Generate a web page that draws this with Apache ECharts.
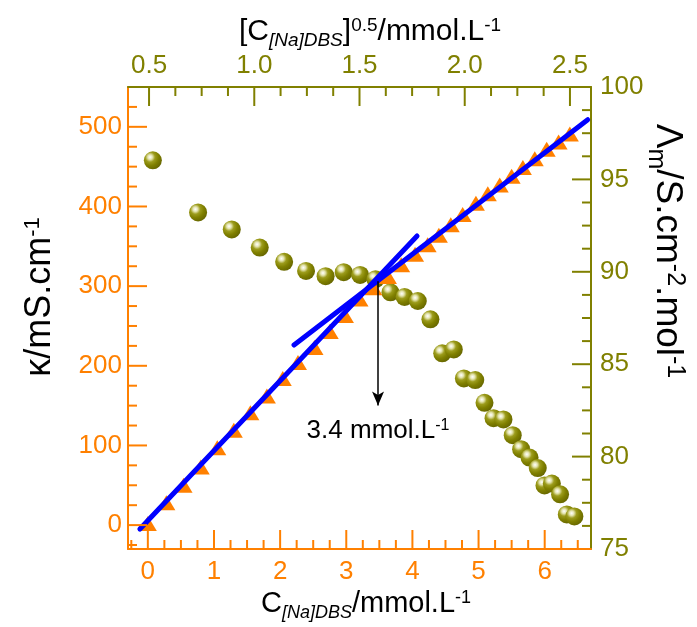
<!DOCTYPE html>
<html><head><meta charset="utf-8">
<script src="https://cdn.jsdelivr.net/npm/echarts@6/dist/echarts.min.js"></script>
<style>html,body{margin:0;padding:0;background:#fff}#c{width:697px;height:627px;background:#fff}</style>
</head><body><div id="c"></div>
<script>
// ---- data ----
const concentration = [0, 0.28, 0.54, 0.80, 1.05, 1.30, 1.55, 1.80, 2.04, 2.27, 2.52, 2.75, 2.98, 3.20, 3.41, 3.63, 3.83, 4.04, 4.23, 4.40, 4.58, 4.76, 4.96, 5.14, 5.32, 5.50, 5.67, 5.85, 6.03, 6.21, 6.38];
const kappa = [2, 28, 50, 73, 97, 119, 141, 162, 184, 204, 223, 243, 263, 284, 298, 312, 327, 340, 352, 364, 377, 390, 404, 416, 427, 438, 449, 460, 472, 481, 491];
const sqrtConcentration = [0.518, 0.733, 0.893, 1.026, 1.142, 1.246, 1.339, 1.425, 1.503, 1.576, 1.647, 1.714, 1.777, 1.837, 1.893, 1.948, 1.996, 2.050, 2.094, 2.137, 2.184, 2.228, 2.268, 2.308, 2.347, 2.379, 2.414, 2.453, 2.485, 2.521];
const molarConductivity = [96.03, 93.21, 92.29, 91.31, 90.54, 90.05, 89.76, 89.98, 89.83, 89.60, 88.89, 88.64, 88.42, 87.43, 85.59, 85.80, 84.23, 84.14, 82.91, 82.08, 82.01, 81.16, 80.40, 79.95, 79.38, 78.44, 78.54, 77.96, 76.87, 76.76];
const fitLowX = [-0.12, 4.07];
const fitLowY = [-5, 363];
const fitHighX = [2.21, 6.65];
const fitHighY = [226, 509];
const cmcX = 3.48;
const cmcArrowY = [306, 150];
const cmcText = '3.4';
// tick labels
const bottomTicks = [0, 1, 2, 3, 4, 5, 6];
const topTicks = [0.5, 1.0, 1.5, 2.0, 2.5];
const leftTicks = [0, 100, 200, 300, 400, 500];
const rightTicks = [75, 80, 85, 90, 95, 100];
// axis ranges
const bottomRange = [-0.3, 6.7], topRange = [0.4, 2.6], leftRange = [-30, 550], rightRange = [75, 100];

const ORANGE = '#ff8000';
const OLIVE = '#808000';
const FONT = '"Liberation Sans", Arial, sans-serif';
const G = { left: 128, top: 87, width: 463, height: 462 };
const MAJOR = 19, MINOR = 9;

function minors(start, end, step, majorStep) {
  const out = [];
  const n = Math.round((end - start) / step);
  for (let i = 0; i <= n; i++) {
    const r = Math.round((start + i * step) * 10000) / 10000;
    const q = r / majorStep;
    if (Math.abs(q - Math.round(q)) > 1e-6) out.push(r);
  }
  return out;
}
const bottomMinor = minors(-0.25, 6.5, 0.25, 1);
const topMinor = minors(0.5, 2.5, 0.125, 0.5);
const leftMinor = minors(-25, 525, 25, 100);
const rightMinor = minors(76.25, 98.75, 1.25, 5);

function valueAxis(pos, range, color, ticks, margin, fmt) {
  const a = {
    type: 'value', position: pos, min: range[0], max: range[1],
    axisLine: { show: true, onZero: false, lineStyle: { color: color, width: 2 } },
    axisTick: { show: false },
    axisLabel: { show: true, customValues: ticks, color: color, fontSize: 26, fontFamily: FONT, margin: margin },
    splitLine: { show: false }, minorTick: { show: false }
  };
  if (fmt) a.axisLabel.formatter = fmt;
  return a;
}

// inward tick marks drawn as thin rect symbols placed through the axes' own scales
function tickSeries(xi, yi, pts, size, offset, color) {
  return {
    type: 'scatter', xAxisIndex: xi, yAxisIndex: yi, z: 6, silent: true, clip: false,
    data: pts, symbol: 'rect', symbolSize: size, symbolOffset: offset,
    itemStyle: { color: color, opacity: 1 }, emphasis: { disabled: true }
  };
}

const sphere = {
  type: 'radial', x: 0.35, y: 0.32, r: 0.72,
  colorStops: [
    { offset: 0, color: '#ffffff' },
    { offset: 0.18, color: '#e4e4b0' },
    { offset: 0.38, color: '#9c9c1c' },
    { offset: 0.65, color: '#808000' },
    { offset: 1, color: '#666600' }
  ]
};

function richText(F, r) {
  r = r || 0.62;
  const s = Math.round(F * r);
  return {
    n: { fontSize: F, fontFamily: FONT, color: '#000', verticalAlign: 'middle' },
    sup: { fontSize: s, fontFamily: FONT, color: '#000', verticalAlign: 'middle', padding: [0, 0, Math.round(F * 0.42), 0] },
    sub: { fontSize: s, fontFamily: FONT, color: '#000', verticalAlign: 'middle', padding: [Math.round(F * 0.6), 0, 0, 0] },
    subi: { fontSize: s, fontFamily: FONT, fontStyle: 'italic', color: '#000', verticalAlign: 'middle', padding: [Math.round(F * 0.6), 0, 0, 0] }
  };
}

const chart = echarts.init(document.getElementById('c'), null, { renderer: 'canvas' });
const option = {
  animation: false,
  grid: { left: G.left, top: G.top, width: G.width, height: G.height, containLabel: false },
  xAxis: [
    valueAxis('bottom', bottomRange, ORANGE, bottomTicks, 10),
    valueAxis('top', topRange, OLIVE, topTicks, 8, v => Number(v).toFixed(1))
  ],
  yAxis: [
    valueAxis('left', leftRange, ORANGE, leftTicks, 6),
    valueAxis('right', rightRange, OLIVE, rightTicks, 9)
  ],
  series: [
    // ticks
    tickSeries(0, 0, bottomTicks.map(v => [v, leftRange[0]]), [2, MAJOR], [0, -MAJOR / 2], ORANGE),
    tickSeries(0, 0, bottomMinor.map(v => [v, leftRange[0]]), [2, MINOR], [0, -MINOR / 2], ORANGE),
    tickSeries(0, 0, leftTicks.map(v => [bottomRange[0], v]), [MAJOR, 2], [MAJOR / 2, 0], ORANGE),
    tickSeries(0, 0, leftMinor.map(v => [bottomRange[0], v]), [MINOR, 2], [MINOR / 2, 0], ORANGE),
    tickSeries(1, 1, topTicks.map(v => [v, rightRange[1]]), [2, MAJOR], [0, MAJOR / 2], OLIVE),
    tickSeries(1, 1, topMinor.map(v => [v, rightRange[1]]), [2, MINOR], [0, MINOR / 2], OLIVE),
    tickSeries(1, 1, rightTicks.filter(v => v > rightRange[0] && v < rightRange[1]).map(v => [topRange[1], v]), [MAJOR, 2], [-MAJOR / 2, 0], OLIVE),
    tickSeries(1, 1, rightMinor.map(v => [topRange[1], v]), [MINOR, 2], [-MINOR / 2, 0], OLIVE),
    // data
    {
      type: 'scatter', xAxisIndex: 1, yAxisIndex: 1, z: 2,
      data: sqrtConcentration.map((u, i) => [u, molarConductivity[i]]),
      symbol: 'circle', symbolSize: 18,
      itemStyle: { color: sphere, opacity: 1 }
    },
    {
      type: 'scatter', xAxisIndex: 0, yAxisIndex: 0, z: 3,
      data: concentration.map((c, i) => [c, kappa[i]]),
      symbol: 'triangle', symbolSize: [18, 15],
      itemStyle: { color: ORANGE, opacity: 1 },
      markLine: {
        silent: true, animation: false,
        symbol: ['none', 'arrow'], symbolSize: [9, 14],
        lineStyle: { color: '#000', width: 1.5, type: 'solid' },
        label: {
          show: true, position: 'end', distance: 12,
          formatter: '{n|' + cmcText + ' mmol.L}{sup|-1}',
          rich: richText(26)
        },
        data: [[{ coord: [cmcX, cmcArrowY[0]] }, { coord: [cmcX, cmcArrowY[1]] }]]
      }
    },
    {
      type: 'line', xAxisIndex: 0, yAxisIndex: 0, z: 4, symbol: 'none',
      data: fitLowX.map((x, i) => [x, fitLowY[i]]),
      lineStyle: { color: '#0000ff', width: 5, cap: 'round' }
    },
    {
      type: 'line', xAxisIndex: 0, yAxisIndex: 0, z: 4, symbol: 'none',
      data: fitHighX.map((x, i) => [x, fitHighY[i]]),
      lineStyle: { color: '#0000ff', width: 5, cap: 'round' }
    }
  ],
  graphic: [
    {
      type: 'text', x: 40, y: 297, rotation: Math.PI / 2,
      style: { text: '{n|κ/mS.cm}{sup|-1}', rich: richText(36), align: 'center', verticalAlign: 'middle' }
    },
    {
      type: 'text', x: 667, y: 251, rotation: -Math.PI / 2,
      style: { text: '{n|Λ}{sub|m}{n|/S.cm}{sup|-2}{n|.mol}{sup|-1}', rich: richText(37, 0.68), align: 'center', verticalAlign: 'middle' }
    },
    {
      type: 'text', x: 370, y: 32,
      style: { text: '{n|[C}{subi|[Na]DBS}{n|]}{sup|0.5}{n|/mmol.L}{sup|-1}', rich: richText(30), align: 'center', verticalAlign: 'middle' }
    },
    {
      type: 'text', x: 366, y: 604,
      style: { text: '{n|C}{subi|[Na]DBS}{n|/mmol.L}{sup|-1}', rich: richText(29), align: 'center', verticalAlign: 'middle' }
    }
  ]
};
chart.setOption(option);
</script>
</body></html>
